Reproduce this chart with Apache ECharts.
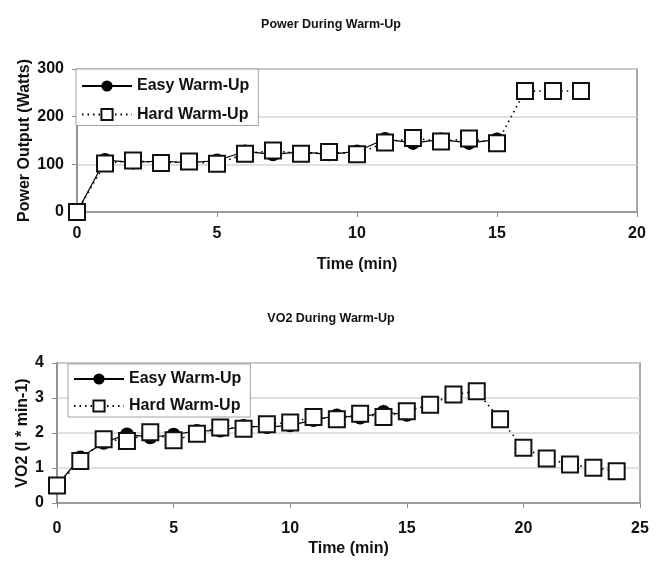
<!DOCTYPE html>
<html>
<head>
<meta charset="utf-8">
<script src="https://cdn.jsdelivr.net/npm/echarts@6/dist/echarts.min.js"></script>
<style>
  html, body { margin: 0; padding: 0; background: #fff; }
  #chart { width: 662px; height: 561px; }
</style>
</head>
<body>
<div id="chart"></div>
<script>
// Power output (W) per minute of warm-up
const powerEasyMin = [0, 1, 2, 3, 4, 5, 6, 7, 8, 9, 10, 11, 12, 13, 14, 15];
const powerEasy = [0, 109, 104, 107, 103, 108, 127, 121, 126, 121, 127, 153, 145, 152, 145, 152];
const powerHardMin = [0, 1, 2, 3, 4, 5, 6, 7, 8, 9, 10, 11, 12, 13, 14, 15, 16, 17, 18];
const powerHard = [0, 102, 108, 103, 106, 101, 122, 129, 122, 126, 121, 146, 155, 148, 154, 144, 254, 254, 254];

// VO2 (l * min-1) per minute of warm-up
const vo2EasyMin = [0, 1, 2, 3, 4, 5, 6, 7, 8, 9, 10, 11, 12, 13, 14, 15];
const vo2Easy = [0.5, 1.3, 1.72, 1.96, 1.88, 1.95, 2.06, 2.07, 2.2, 2.17, 2.22, 2.37, 2.5, 2.44, 2.6, 2.52];
const vo2HardMin = [0, 1, 2, 3, 4, 5, 6, 7, 8, 9, 10, 11, 12, 13, 14, 15, 16, 17, 18, 19, 20, 21, 22, 23, 24];
const vo2Hard = [0.5, 1.2, 1.82, 1.77, 2.02, 1.79, 1.98, 2.16, 2.12, 2.25, 2.3, 2.46, 2.39, 2.55, 2.46, 2.62, 2.81, 3.1, 3.19, 2.39, 1.58, 1.27, 1.1, 1.01, 0.91];

const seriesNames = ['Easy Warm-Up', 'Hard Warm-Up'];
const chartTitles = ['Power During Warm-Up', 'VO2 During Warm-Up'];
const xTitle = 'Time (min)';
const yTitles = ['Power Output (Watts)', 'VO2 (l * min-1)'];

const pairs = (xs, ys) => xs.map((x, i) => [x, ys[i]]);

const FONT = '"Liberation Sans", Arial, sans-serif';
const AXIS_GRAY = '#8c8c8c';
const GRID_GRAY = '#d6d6d6';

function xAxisFor(gridIndex, max, labelMargin, nameGap) {
  return {
    type: 'value', gridIndex, min: 0, max, interval: 5,
    name: xTitle, nameLocation: 'middle', nameGap,
    nameTextStyle: { fontFamily: FONT, fontWeight: 'bold', fontSize: 16, color: '#111' },
    axisLine: { show: true, lineStyle: { color: AXIS_GRAY, width: 1.5 } },
    axisTick: { show: true, length: 5, lineStyle: { color: AXIS_GRAY, width: 1 } },
    axisLabel: { fontFamily: FONT, fontWeight: 'bold', fontSize: 16, color: '#111', margin: labelMargin },
    splitLine: { show: false }
  };
}

function yAxisFor(gridIndex, max, interval, name, nameGap) {
  return {
    type: 'value', gridIndex, min: 0, max, interval,
    name, nameLocation: 'middle', nameGap, nameMoveOverlap: false,
    nameTextStyle: { fontFamily: FONT, fontWeight: 'bold', fontSize: 16, color: '#111' },
    axisLine: { show: true, lineStyle: { color: AXIS_GRAY, width: 1.5 } },
    axisTick: { show: true, length: 5, lineStyle: { color: AXIS_GRAY, width: 1 } },
    axisLabel: { fontFamily: FONT, fontWeight: 'bold', fontSize: 16, color: '#111', margin: 13 },
    splitLine: { show: true, lineStyle: { color: GRID_GRAY, width: 1.5 } }
  };
}

const easyStyle = {
  type: 'line',
  symbol: 'circle', symbolSize: 14,
  itemStyle: { color: '#000' },
  lineStyle: { color: '#000', width: 1.2, type: 'solid' },
  z: 2
};
const hardStyle = {
  type: 'line',
  symbol: 'rect', symbolSize: 16,
  itemStyle: { color: '#fff', borderColor: '#111', borderWidth: 2 },
  lineStyle: { color: '#000', width: 1.6, type: [1.5, 4] },
  z: 3
};

function legendAt(left, top, padding, itemGap) {
  return {
    data: seriesNames, orient: 'vertical', left, top,
    selectedMode: false,
    backgroundColor: '#fff', borderColor: '#a0a0a0', borderWidth: 1, borderRadius: 0,
    padding, itemGap, itemWidth: 50, itemHeight: 14,
    textStyle: { fontFamily: FONT, fontWeight: 'bold', fontSize: 16, color: '#111' }
  };
}

const chart = echarts.init(document.getElementById('chart'), null, { renderer: 'canvas' });
chart.setOption({
  animation: false,
  backgroundColor: '#fff',
  title: [
    { text: chartTitles[0], left: 'center', top: 13,
      textStyle: { fontFamily: FONT, fontWeight: 'bold', fontSize: 12.5, color: '#111' } },
    { text: chartTitles[1], left: 'center', top: 307,
      textStyle: { fontFamily: FONT, fontWeight: 'bold', fontSize: 12.5, color: '#111' } }
  ],
  legend: [
    legendAt(76, 69, [9, 9, 3, 5], 12.5),
    legendAt(68, 364, [7, 9, 3, 5], 11)
  ],
  grid: [
    { left: 77, top: 69, width: 560, height: 143, show: true, borderColor: AXIS_GRAY, borderWidth: 1.5, containLabel: false },
    { left: 57, top: 363, width: 583, height: 140, show: true, borderColor: AXIS_GRAY, borderWidth: 1.5, containLabel: false }
  ],
  xAxis: [xAxisFor(0, 20, 14, 45), xAxisFor(1, 25, 18, 38)],
  yAxis: [yAxisFor(0, 300, 100, yTitles[0], 44), yAxisFor(1, 4, 1, yTitles[1], 26)],
  series: [
    Object.assign({ name: seriesNames[0], xAxisIndex: 0, yAxisIndex: 0, data: pairs(powerEasyMin, powerEasy) }, easyStyle),
    Object.assign({ name: seriesNames[1], xAxisIndex: 0, yAxisIndex: 0, data: pairs(powerHardMin, powerHard) }, hardStyle),
    Object.assign({ name: seriesNames[0], xAxisIndex: 1, yAxisIndex: 1, data: pairs(vo2EasyMin, vo2Easy) }, easyStyle),
    Object.assign({ name: seriesNames[1], xAxisIndex: 1, yAxisIndex: 1, data: pairs(vo2HardMin, vo2Hard) }, hardStyle)
  ]
});
</script>
</body>
</html>
